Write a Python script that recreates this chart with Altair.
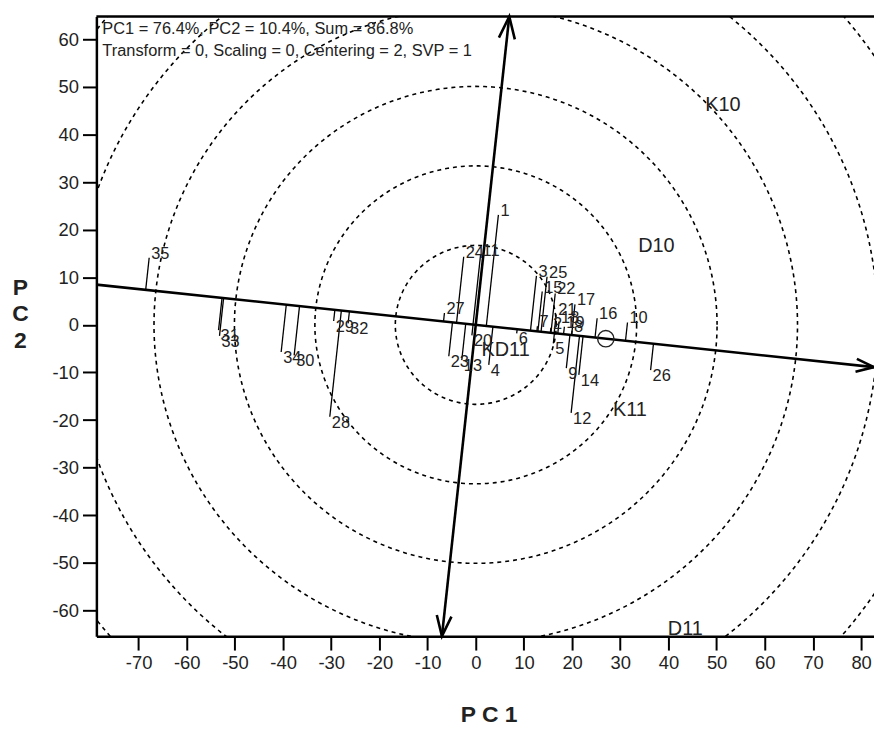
import altair as alt
import pandas as pd
import numpy as np

# ---------------- data ----------------
genotypes = [str(i) for i in range(1, 36)]
g_pc1 = [4.7, 15.6, 12.6, 2.7, 16.1, 8.5, 12.8, 20.0, 18.8, 31.5,
         1.0, 19.8, -2.9, 21.4, 13.8, 25.2, 20.6, 17.3, 18.4, -0.8,
         16.7, 16.5, -5.6, -2.5, 14.8, 36.3, -6.5, -30.3, -29.5, -37.7,
         -53.4, -26.5, -53.2, -40.4, -67.8]
g_pc2 = [23.1, -0.6, 10.3, -8.4, -3.9, -1.8, -0.3, -1.2, -9.1, 0.5,
         14.7, -18.5, -7.4, -10.5, 7.0, 1.4, 4.3, 0.7, -0.4, -2.2,
         2.2, 6.6, -6.6, 14.3, 10.1, -9.5, 2.5, -19.3, 0.8, -6.4,
         -1.1, 0.3, -2.3, -5.7, 14.1]

env_names = ["K10", "D10", "K11", "D11", "KD11"]
env_pc1 = [51.3, 37.5, 32.0, 43.5, 6.2]
env_pc2 = [46.2, 16.6, -17.8, -64.0, -5.2]

avg_env_pc1 = [27.0]
avg_env_pc2 = [-2.9]

circle_radii = [16.7, 33.4, 50.1, 66.8, 83.5, 100.2]
x_ticks = list(range(-70, 81, 10))
y_ticks = list(range(-60, 61, 10))
x_domain = [-78.76, 82.68]
y_domain = [-65.4, 64.8]

note_lines = ["PC1 = 76.4%, PC2 = 10.4%, Sum = 86.8%",
              "Transform = 0, Scaling = 0, Centering = 2, SVP = 1"]

# ---------------- derived geometry ----------------
W, H = 783, 624
sx = W / (x_domain[1] - x_domain[0])
sy = H / (y_domain[1] - y_domain[0])

a = np.array([avg_env_pc1[0], avg_env_pc2[0]])
u = a / np.linalg.norm(a)          # average-environment axis direction
ux, uy = u

gx = np.array(g_pc1)
gy = np.array(g_pc2)
t = gx * ux + gy * uy
perp = -gx * uy + gy * ux
geno = pd.DataFrame({
    "name": genotypes, "x": gx, "y": gy,
    "xp": t * ux, "yp": t * uy,
    "side": np.where(perp >= 0, "above", "below"),
})

# AEA abscissa through origin, and the perpendicular ordinate
aea = pd.DataFrame({
    "x": [x_domain[0], -y_domain[1] * uy / ux],
    "y": [x_domain[0] * uy / ux, y_domain[1]],
    "x2": [x_domain[1], -y_domain[0] * uy / ux],
    "y2": [x_domain[1] * uy / ux, y_domain[0]],
})

def screen_angle(dx, dy):
    return float(np.degrees(np.arctan2(-dy * sy, dx * sx)) % 360)

arrows = pd.DataFrame({
    "x": [aea.x2[0], aea.x[1], aea.x2[1]],
    "y": [aea.y2[0], aea.y[1], aea.y2[1]],
    "angle": [screen_angle(ux, uy), screen_angle(-uy, ux), screen_angle(uy, -ux)],
    "size": [1300, 2000, 1700],
})

theta = np.linspace(0, 2 * np.pi, 361)
circ = pd.concat([
    pd.DataFrame({"x": r * np.cos(theta), "y": r * np.sin(theta),
                  "c": i, "o": np.arange(len(theta))})
    for i, r in enumerate(circle_radii)
])

env = pd.DataFrame({"name": env_names, "x": env_pc1, "y": env_pc2})
avg = pd.DataFrame({"x": avg_env_pc1, "y": avg_env_pc2})
notes = pd.DataFrame({"txt": note_lines, "py": [13, 34.5]})

FONT = "Liberation Sans"

xs = alt.Scale(domain=x_domain, nice=False, zero=False)
ys = alt.Scale(domain=y_domain, nice=False, zero=False)

x_axis = alt.Axis(values=x_ticks, grid=False, domainColor="black", domainWidth=2.5,
                  tickColor="black", tickWidth=2, tickSize=14, labelFontSize=18.5,
                  labelColor="#222", labelFont=FONT, labelPadding=4,
                  labelExpr="'' + datum.value",
                  title="P C 1", titleFont=FONT, titleFontSize=23, titleFontWeight="bold",
                  titleColor="#222", titleY=79, titleBaseline="middle", titleX=395)
y_axis = alt.Axis(values=y_ticks, grid=False, domainColor="black", domainWidth=2.5,
                  tickColor="black", tickWidth=2, tickSize=14, labelFontSize=18.5,
                  labelColor="#222", labelFont=FONT, labelPadding=4,
                  labelExpr="'' + datum.value",
                  title=["P", "C", "2"], titleFont=FONT, titleFontSize=23,
                  titleFontWeight="bold", titleColor="#222", titleAngle=0,
                  titleX=-77, titleY=262, titleBaseline="top", titleAlign="center",
                  titleLineHeight=26.5)

X = alt.X("x:Q", scale=xs, axis=x_axis)
Y = alt.Y("y:Q", scale=ys, axis=y_axis)

circles = alt.Chart(circ).mark_line(
    color="black", strokeWidth=1.6, strokeDash=[4, 4], clip=True
).encode(x=X, y=Y, detail="c:N", order="o:Q")

proj = alt.Chart(geno).mark_rule(color="black", strokeWidth=1.3, clip=True).encode(
    x=X, y=Y, x2="xp:Q", y2="yp:Q")

axes_lines = alt.Chart(aea).mark_rule(color="black", strokeWidth=2.6).encode(
    x=X, y=Y, x2="x2:Q", y2="y2:Q")

heads = alt.Chart(arrows).mark_point(
    shape="M-1,-0.36L0,0L-1,0.36", filled=False, color="black", strokeWidth=2.6,
    opacity=1
).encode(x=X, y=Y, angle=alt.Angle("angle:Q", scale=None),
         size=alt.Size("size:Q", scale=None))

avg_mark = alt.Chart(avg).mark_point(
    shape="circle", filled=False, color="#222", strokeWidth=1.4, size=270, opacity=1
).encode(x=X, y=Y)

lab_above = alt.Chart(geno).transform_filter(alt.datum.side == "above").mark_text(
    align="left", baseline="middle", dx=2, dy=-4, fontSize=16.5, font=FONT, color="#222"
).encode(x=X, y=Y, text="name:N")

lab_below = alt.Chart(geno).transform_filter(alt.datum.side == "below").mark_text(
    align="left", baseline="middle", dx=2, dy=6, fontSize=16.5, font=FONT, color="#222"
).encode(x=X, y=Y, text="name:N")

env_lab = alt.Chart(env).mark_text(
    align="center", baseline="middle", fontSize=20, font=FONT, color="#222"
).encode(x=X, y=Y, text="name:N")

top_frame = alt.Chart(avg).mark_rule(color="black", strokeWidth=2.6).encode(
    y=alt.datum(y_domain[1]))

note = alt.Chart(notes).mark_text(
    align="left", baseline="middle", fontSize=16.5, font=FONT, color="#222"
).encode(x=alt.value(6), y=alt.Y("py:Q", scale=None), text="txt:N")

chart = alt.layer(
    circles, proj, axes_lines, heads, avg_mark, lab_above, lab_below, env_lab,
    top_frame, note
).properties(
    width=W, height=H,
    padding={"left": 89, "top": 6, "right": 0, "bottom": 90},
    autosize=alt.AutoSizeParams(type="none"),
).configure_view(stroke=None).configure(background="white")

chart.save("out.html", embed_options={"renderer": "svg", "actions": False})
